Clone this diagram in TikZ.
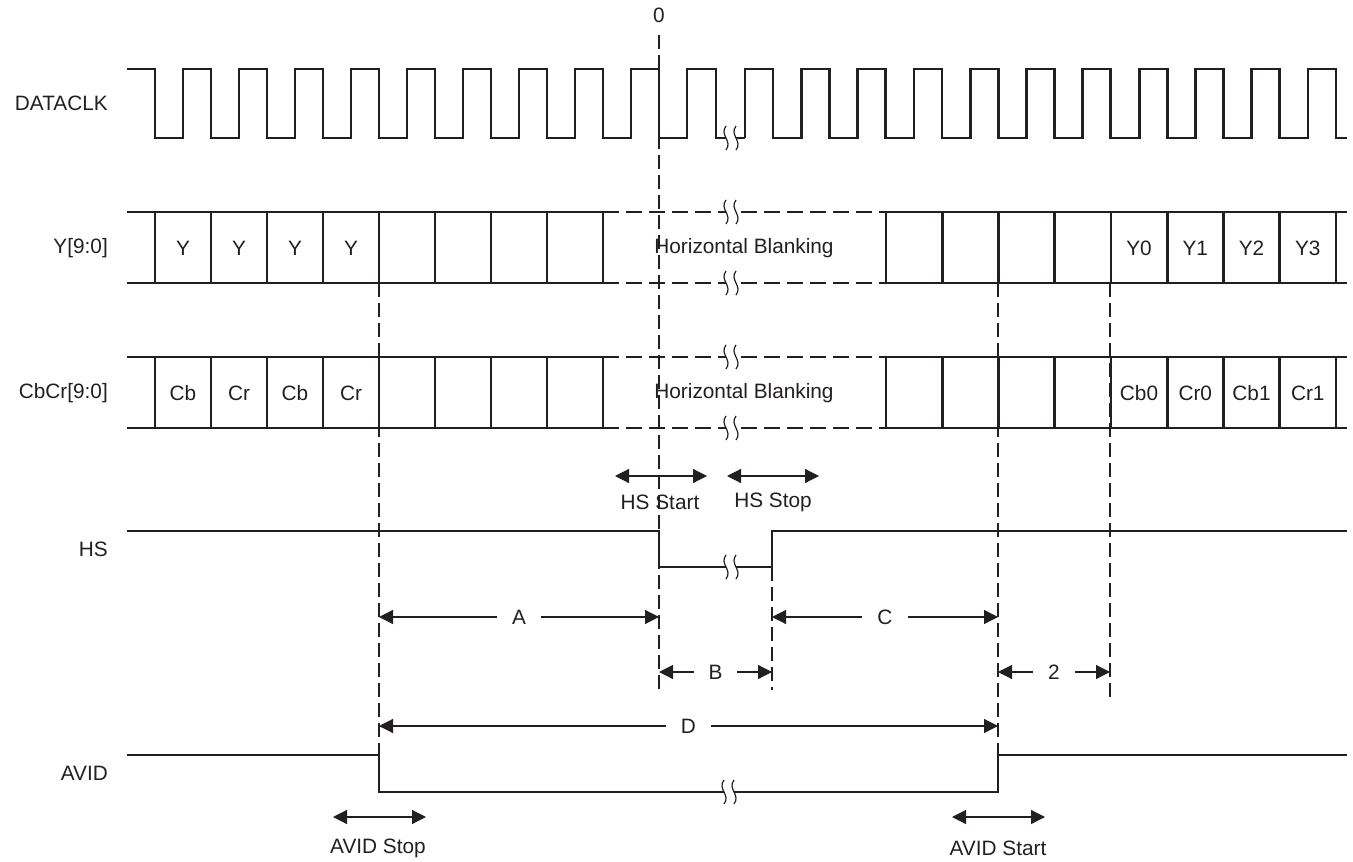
\documentclass[tikz,border=0pt]{standalone}
\usepackage{fontspec}
\setmainfont{Liberation Sans}
\usetikzlibrary{arrows.meta}
\usetikzlibrary{calc}
\definecolor{ink}{RGB}{35,31,32}

\tikzset{
    sig/.style={ink, line width=2.8pt, line join=miter},
    guide/.style={ink, line width=1.2pt, dash pattern=on 14pt off 6pt},
    busdash/.style={ink, line width=2.8pt, dash pattern=on 16pt off 7pt},
    dimarrow/.style={ink, line width=1.2pt, {Triangle[length=14pt,width=14pt]}-{Triangle[length=14pt,width=14pt]}},
    lbl/.style={text=ink, font=\fontsize{20.8}{25}\selectfont, inner sep=0pt},
    dimlbl/.style={lbl, fill=white, inner xsep=15pt, inner ysep=3pt},
}
% break symbol on a signal line
\newcommand{\brkmark}[2]{%
    \fill[white] (#1-5,#2-7) rectangle (#1+5,#2+7);
    \draw[ink, line width=1.2pt] (#1-5,#2-12) .. controls (#1-12,#2-3) and (#1+2,#2+3) .. (#1-5,#2+12);
    \draw[ink, line width=1.2pt] (#1+5,#2-12) .. controls (#1-2,#2-3) and (#1+12,#2+3) .. (#1+5,#2+12);
}

\begin{document}
\begin{tikzpicture}[x=1pt, y=-1pt]
        \useasboundingbox (0,0) rectangle (1353,862);

        \coordinate (xZero) at (659,0);
        \coordinate (xStop) at (379,0);
        \coordinate (xHS) at (772,0);
        \coordinate (xStart) at (998,0);
        \coordinate (xFirst) at (1110,0);

        % signal names
        \node[lbl, anchor=east] (nclk) at (108,103) {DATACLK};
        \node[lbl, anchor=east] (ny) at (108,248) {Y[9:0]};
        \node[lbl, anchor=east] (nc) at (108,393) {CbCr[9:0]};
        \node[lbl, anchor=east] (nhs) at (108,549) {HS};
        \node[lbl, anchor=east] (navid) at (108,773) {AVID};
        \node[lbl] (zero) at (659,15) {0};

        % timing guides
        \draw[guide] ($(xZero)+(0,35)$) -- ($(xZero)+(0,690)$);
        \draw[guide] ($(xStop)+(0,283)$) -- ($(xStop)+(0,755)$);
        \draw[guide] ($(xStart)+(0,283)$) -- ($(xStart)+(0,755)$);
        \draw[guide] ($(xFirst)+(0,283)$) -- ($(xFirst)+(0,700)$);
        \draw[guide] ($(xHS)+(0,567)$) -- ($(xHS)+(0,690)$);

        % DATACLK
        \draw[sig] (127,69) \foreach \k in {0,...,8} { -- ({155+56*\k},69) -- ({155+56*\k},138) -- ({183+56*\k},138) -- ({183+56*\k},69) }
            -- (659,69) -- (659,138) -- (687,138) -- (687,69) -- (716,69) -- (716,138) -- (745,138);
        \draw[sig] (745,138) \foreach \k in {0,...,10} { -- ({745+56.3*\k},138) -- ({745+56.3*\k},69) -- ({773+56.3*\k},69) -- ({773+56.3*\k},138) }
            -- (1347,138);
        \brkmark{731}{138}

        % data buses
        \foreach \yt in {212,357} {
            \pgfmathsetmacro\yb{\yt+71}
            \draw[sig] (127,\yt) -- (603,\yt) (127,\yb) -- (603,\yb);
            \draw[sig] (886,\yt) -- (1347,\yt) (886,\yb) -- (1347,\yb);
            \draw[busdash] (603,\yt) -- (886,\yt) (603,\yb) -- (886,\yb);
            \foreach \k in {0,...,8} {
                \draw[sig] ({155+56*\k},\yt) -- ({155+56*\k},\yb);
                \draw[sig] ({886+56.25*\k},\yt) -- ({886+56.25*\k},\yb);
            }
            \brkmark{731}{\yt}
            \brkmark{731}{\yb}
            \node[lbl] at (744,\yt+36) {Horizontal Blanking};
        }
        \foreach \t [count=\i from 0] in {Y,Y,Y,Y} \node[lbl] at ({183+56*\i},248) {\t};
        \foreach \t [count=\i from 0] in {Y0,Y1,Y2,Y3} \node[lbl] at ({1139+56.25*\i},248) {\t};
        \foreach \t [count=\i from 0] in {Cb,Cr,Cb,Cr} \node[lbl] at ({183+56*\i},393) {\t};
        \foreach \t [count=\i from 0] in {Cb0,Cr0,Cb1,Cr1} \node[lbl] at ({1139+56.25*\i},393) {\t};

        % HS
        \draw[dimarrow] (615,476) -- (707,476);
        \draw[dimarrow] (727,476) -- (819,476);
        \node[lbl] (hsstart) at (660,502) {HS Start};
        \node[lbl] (hsstop) at (773,502) {HS Stop};
        \draw[sig] (127,531) -- ($(xZero)+(0,531)$) -- ($(xZero)+(0,567)$) -- ($(xHS)+(0,567)$) -- ($(xHS)+(0,531)$) -- (1347,531);
        \brkmark{731}{567}

        % intervals
        \draw[dimarrow] ($(xStop)+(0,617)$) -- node[dimlbl] {A} ($(xZero)+(0,617)$);
        \draw[dimarrow] ($(xHS)+(0,617)$) -- node[dimlbl] {C} ($(xStart)+(0,617)$);
        \draw[dimarrow] ($(xZero)+(0,672)$) -- node[dimlbl] {B} ($(xHS)+(0,672)$);
        \draw[dimarrow] ($(xStart)+(0,672)$) -- node[dimlbl] {2} ($(xFirst)+(0,672)$);
        \draw[dimarrow] ($(xStop)+(0,726)$) -- node[dimlbl] {D} ($(xStart)+(0,726)$);

        % AVID
        \draw[sig] (127,755) -- ($(xStop)+(0,755)$) -- ($(xStop)+(0,792)$) -- ($(xStart)+(0,792)$) -- ($(xStart)+(0,755)$) -- (1347,755);
        \brkmark{729}{792}
        \draw[dimarrow] (333,817) -- (426,817);
        \draw[dimarrow] (952,817) -- (1045,817);
        \node[lbl] (avidstop) at (378,848) {AVID Stop};
        \node[lbl] (avidstart) at (998,848) {AVID Start};
\end{tikzpicture}
\end{document}
